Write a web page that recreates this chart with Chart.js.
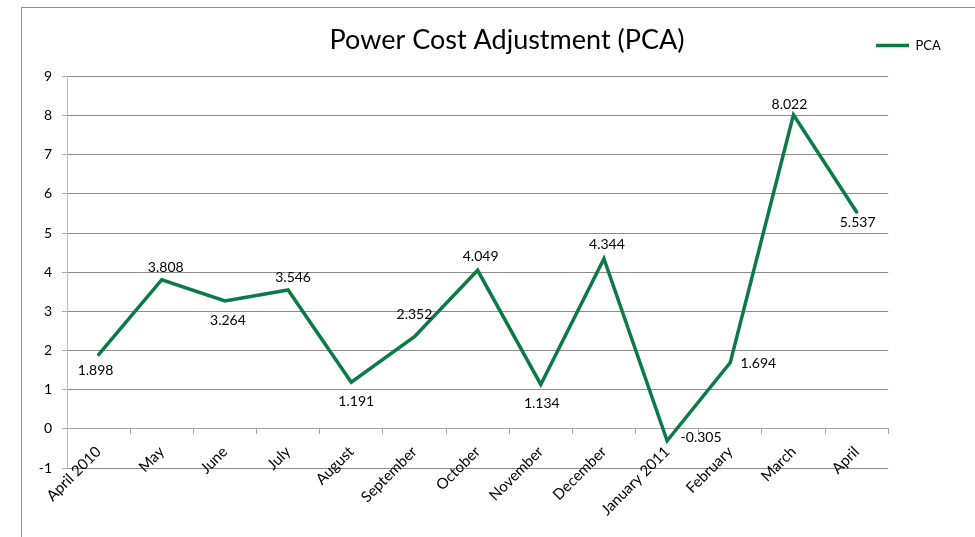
<!DOCTYPE html>
<html>
<head>
<meta charset="utf-8">
<title>Power Cost Adjustment (PCA)</title>
<script src="https://cdn.jsdelivr.net/npm/chart.js@4.4.0/dist/chart.umd.min.js"></script>
<style>
  html, body { margin: 0; padding: 0; background: #fff; }
  #wrap { position: relative; width: 975px; height: 537px; overflow: hidden; }
  #frame { position: absolute; left: 21px; top: 7px; width: 980px; height: 560px;
           border-left: 1px solid #8f8f8f; border-top: 1px solid #8f8f8f; }
  #pcaChart { position: absolute; left: 0; top: 0; }
</style>
</head>
<body>
<div id="wrap">
  <div id="frame"></div>
  <canvas id="pcaChart" width="975" height="537"></canvas>
</div>
<script>
var months = ['April 2010', 'May', 'June', 'July', 'August', 'September', 'October',
              'November', 'December', 'January 2011', 'February', 'March', 'April'];
var pcaValues = [1.898, 3.808, 3.264, 3.546, 1.191, 2.352, 4.049, 1.134, 4.344, -0.305, 1.694, 8.022, 5.537];
var yMin = -1;
var yMax = 9;
var yStep = 1;

// where each value label sits relative to its point (centre offset in px)
var labelOffsets = [[-3, 16], [4, -12], [3, 19], [5, -12], [5, 19], [0, -22], [3, -14],
                    [1, 19], [3, -14], [34, -3], [28, 1], [-4, -10], [1, 10]];

var lineGreen = '#0b7a45';
var fontFamily = 'Lato, "Open Sans", sans-serif';

// value labels next to every point
var valueLabels = {
    id: 'valueLabels',
    afterDatasetsDraw: function(chart) {
        var ctx = chart.ctx;
        var meta = chart.getDatasetMeta(0);
        ctx.save();
        ctx.font = '14px ' + fontFamily;
        ctx.fillStyle = '#000';
        ctx.textAlign = 'center';
        ctx.textBaseline = 'middle';
        meta.data.forEach(function(pt, i) {
            var off = labelOffsets[i];
            ctx.fillText(pcaValues[i].toFixed(3), pt.x + off[0], pt.y + off[1]);
        });
        ctx.restore();
    }
};

// legend sits up beside the title, not beside the plot
var legendSpot = {
    id: 'legendSpot',
    afterLayout: function(chart) {
        var lg = chart.legend;
        var w = lg.width, h = lg.height;
        lg.left = 864;
        lg.top = 27;
        lg.right = lg.left + w;
        lg.bottom = lg.top + h;
    }
};

var ctx = document.getElementById('pcaChart').getContext('2d');
var pcaChart = new Chart(ctx, {
    type: 'line',
    data: {
        labels: months,
        datasets: [{
            label: 'PCA',
            data: pcaValues,
            borderColor: lineGreen,
            backgroundColor: lineGreen,
            borderWidth: 3.5,
            borderCapStyle: 'round',
            pointRadius: 0,
            pointHoverRadius: 0,
            tension: 0,
            fill: false
        }]
    },
    options: {
        responsive: false,
        animation: false,
        layout: { padding: { left: 39, right: 0, top: 0, bottom: 69 } },
        scales: {
            x: {
                position: { y: 0 },
                offset: true,
                grid: { drawOnChartArea: false, drawTicks: true, tickLength: 5, color: '#a6a6a6', offset: true },
                border: { color: '#a6a6a6' },
                ticks: {
                    autoSkip: false, minRotation: 45, maxRotation: 45, padding: 9,
                    color: '#000', font: { family: fontFamily, size: 15 }
                }
            },
            y: {
                min: yMin,
                max: yMax,
                ticks: { stepSize: yStep, padding: 10, color: '#000', font: { family: fontFamily, size: 14 } },
                grid: { color: '#8c8c8c', tickLength: 5, tickColor: '#a6a6a6' },
                border: { color: '#bdbdbd' },
                afterFit: function(s) { s.width = 28; }
            }
        },
        plugins: {
            title: {
                display: true,
                text: 'Power Cost Adjustment (PCA)',
                color: '#000',
                font: { family: fontFamily, size: 27, weight: 'normal' },
                padding: { top: 24, bottom: 20 }
            },
            legend: {
                position: 'right',
                align: 'start',
                maxWidth: 87,
                labels: {
                    usePointStyle: true,
                    pointStyle: 'line',
                    pointStyleWidth: 33,
                    padding: 12,
                    color: '#000',
                    font: { family: fontFamily, size: 13 }
                }
            },
            tooltip: { enabled: false }
        }
    },
    plugins: [valueLabels, legendSpot]
});
</script>
</body>
</html>
